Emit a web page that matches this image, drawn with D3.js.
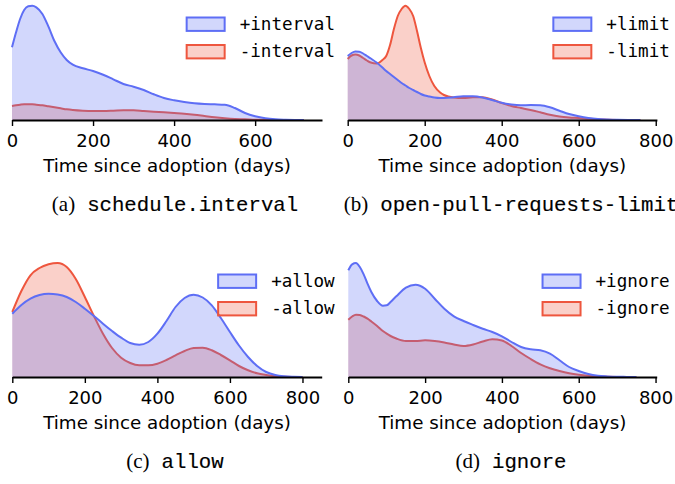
<!DOCTYPE html>
<html><head><meta charset="utf-8">
<script src="https://cdn.jsdelivr.net/npm/d3@7"></script>
<style>body{margin:0;background:#fff} svg{display:block}</style>
</head><body>
<svg id="c" width="675" height="484"></svg>
<script>
// ---- data (kernel density, relative units) ----
const daysA = [0,10,20,30,40,50,60,75,90,105,120,135,150,175,200,225,250,275,300,325,350,375,400,425,450,475,500,525,550,575,600,625,650,675,700,720];
const plusInterval  = [72.7,87.7,101,110,113.7,114.3,112.7,106,93.3,78.7,67.7,60,55.3,51.7,49,45.3,40.7,36,33.3,30,25.7,22,19.7,18,16.7,16,15.7,15.3,12,7,3.7,1.7,0.7,0.3,0.1,0];
const minusInterval = [14,14.7,15.3,15.7,15.7,15.7,15.3,14.7,13.7,12.7,11.7,10.7,10,9.3,9,9,9.3,9.7,9.7,9,8.3,7.7,7,6.3,5.3,4,2.7,1.7,1,0.7,0.3,0.2,0.1,0,0,0];

const daysB = [0,10,20,30,40,50,60,75,90,100,110,120,130,140,150,160,170,180,190,200,212,225,240,250,275,300,325,350,375,400,425,450,475,500,525,550,575,600,625,650,675,700,730,760];
const plusLimit  = [64,67,68.5,68.3,66.5,64,61.5,57.5,52.5,49,46,43,40,37,34.5,32,30,28,26,24.5,23.5,22.5,22,22,22.7,23.7,23.7,22.5,20,17.3,15.5,14.7,15,14.7,12.7,9.3,6,3.7,2,1,0.5,0.2,0.05,0];
const minusLimit = [61,64.5,65.5,64.5,62,59.5,57.5,56.5,60,64,75,91,104,111,114.3,111,104,89,72,57.5,44,34,27.5,25,22.5,22,22.7,22.7,20.5,17,14,12,10,7.7,5.3,3.5,2.5,2,1.3,0.7,0.3,0.1,0,0];

const daysC = [0,25,50,75,100,125,150,175,200,225,250,275,300,325,350,375,400,425,450,475,500,525,550,575,600,625,650,675,700,725,750,775,800];
const plusAllow  = [63.3,72,78.3,82,83.3,82.5,80,75,68.3,61,53.3,46,39.3,34,32.3,35,43.3,56,70,79,82.3,79.5,71.7,59,45,31.5,20,11,5,2,0.7,0.2,0];
const minusAllow = [65,86,101.7,109,112.7,114,110,98,80,61,43.3,29,19.3,14,11.7,11.7,13.3,17,21.7,26,29,29.3,26.7,22,16.7,11,6.7,3.7,2,0.8,0.3,0.1,0];

const daysD = [0,10,20,30,40,50,60,75,90,100,110,125,150,175,200,225,250,275,300,325,350,375,400,425,450,475,500,525,550,575,600,625,650,675,700,725,750];
const plusIgnore  = [106.7,112.7,114,110,102.7,93.3,85,76,71.3,71.7,75,80.7,89.3,92.3,88.3,78.3,68.3,60.7,56,52,48.3,45,40.7,35,30,27.7,26.7,23.3,16.7,10,6,3,1.3,0.6,0.2,0.1,0];
const minusIgnore = [57.3,60.5,62.3,62,60.5,58.3,55.5,51,46,43.3,41,38.5,36,36,36.7,36,34.5,32.5,31,32.5,35.5,37.7,36.5,31,24,18,12.7,8.8,6,3.8,2.3,1.3,0.7,0.3,0.1,0,0];

const ticksA = [0,200,400,600];
const ticksBCD = [0,200,400,600,800];
const captionTags  = ["(a)","(b)","(c)","(d)"];
const captionNames = ["schedule.interval","open-pull-requests-limit","allow","ignore"];
const legendPlus  = ["+interval","+limit","+allow","+ignore"];
const legendMinus = ["-interval","-limit","-allow","-ignore"];
const xLabel = "Time since adoption (days)";

// ---- layout ----
const panels = [
  {days:daysA, plus:plusInterval, minus:minusInterval, ticks:ticksA,   xmax:765, x0:12,    x1:322,   axisY:120, cx:175, capY:211},
  {days:daysB, plus:plusLimit,    minus:minusLimit,    ticks:ticksBCD, xmax:803, x0:347.7, x1:656.9, axisY:120, cx:511, capY:211},
  {days:daysC, plus:plusAllow,    minus:minusAllow,    ticks:ticksBCD, xmax:853, x0:12.3,  x1:321.7, axisY:377, cx:175, capY:468},
  {days:daysD, plus:plusIgnore,   minus:minusIgnore,   ticks:ticksBCD, xmax:803, x0:348.3, x1:656.7, axisY:377, cx:511, capY:468}
];
const BLUE = "rgb(94,110,245)", RED = "rgb(238,86,62)", FILL_OP = 0.28;
const svg = d3.select("#c");

panels.forEach((p, i) => {
  const g = svg.append("g");
  const x = d3.scaleLinear().domain([0, p.xmax]).range([p.x0, p.x1]);
  const y = d3.scaleLinear().domain([0, 120]).range([p.axisY, p.axisY - 120]);
  const area = d3.area().x((d, j) => x(p.days[j])).y0(y(0)).y1(d => y(d)).curve(d3.curveMonotoneX);
  const line = d3.line().x((d, j) => x(p.days[j])).y(d => y(d)).curve(d3.curveMonotoneX);

  [[p.minus, RED], [p.plus, BLUE]].forEach(([vals, col]) => {
    g.append("path").attr("d", area(vals)).attr("fill", col).attr("fill-opacity", FILL_OP).attr("stroke", "none");
    g.append("path").attr("d", line(vals)).attr("fill", "none").attr("stroke", col).attr("stroke-width", 2);
  });

  const ax = g.append("g").attr("transform", `translate(0,${p.axisY})`)
    .call(d3.axisBottom(x).tickValues(p.ticks).tickSize(6).tickPadding(8.5).tickSizeOuter(0));
  ax.select(".domain").attr("stroke", "#000").attr("stroke-width", 2);
  ax.selectAll(".tick line").attr("stroke", "#000").attr("stroke-width", 1.4);
  ax.selectAll(".tick text").attr("fill", "#000").attr("font-family", null).attr("font-size", null)
    .style("font-family", "'DejaVu Sans'").style("font-size", "18px");
  ax.attr("font-family", null).attr("font-size", null);

  g.append("text").attr("x", (p.x0 + p.x1) / 2).attr("y", p.axisY + 51.5).attr("text-anchor", "middle")
    .style("font-family", "'DejaVu Sans'").style("font-size", "18.3px").attr("fill", "#000").text(xLabel);

  // legend
  const textEnd = p.x1 + 13;
  const t1 = g.append("text").attr("y", p.axisY - 90.5).style("font-family", "'DejaVu Sans Mono'").style("font-size", "17.6px").attr("fill", "#000").text(legendPlus[i]);
  const t2 = g.append("text").attr("y", p.axisY - 62.8).style("font-family", "'DejaVu Sans Mono'").style("font-size", "17.6px").attr("fill", "#000").text(legendMinus[i]);
  const w = Math.max(t1.node().getComputedTextLength(), t2.node().getComputedTextLength());
  const ts = textEnd - w;
  t1.attr("x", ts); t2.attr("x", ts);
  [[BLUE, p.axisY - 102.5], [RED, p.axisY - 75]].forEach(([col, yy]) => {
    g.append("rect").attr("x", ts - 15 - 38).attr("y", yy).attr("width", 38).attr("height", 13.4)
      .attr("fill", col).attr("fill-opacity", FILL_OP).attr("stroke", col).attr("stroke-width", 2);
  });

  // caption
  const c1 = svg.append("text").attr("y", p.capY).style("font-family", "'Liberation Serif'").style("font-size", "21px").attr("fill", "#000").text(captionTags[i]);
  const c2 = svg.append("text").attr("y", p.capY).style("font-family", "'Liberation Mono'").style("font-size", "20.7px")
    .attr("fill", "#000").attr("stroke", "#000").attr("stroke-width", 0.15).text(captionNames[i]);
  const w1 = c1.node().getComputedTextLength(), w2 = c2.node().getComputedTextLength();
  const gap = 12;
  const start = p.cx - (w1 + gap + w2) / 2;
  c1.attr("x", start); c2.attr("x", start + w1 + gap);
});
</script>
</body></html>
